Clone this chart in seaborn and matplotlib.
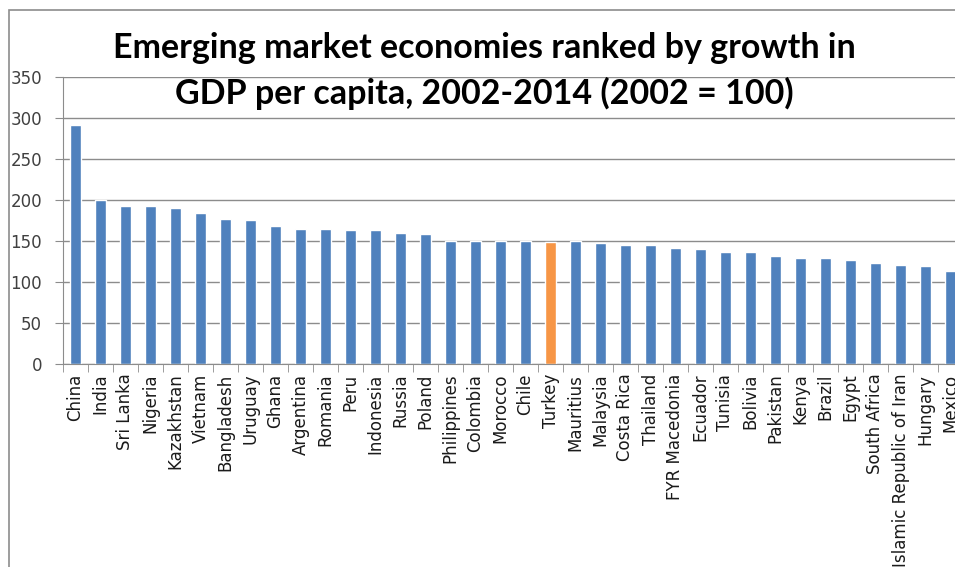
import matplotlib
matplotlib.use("Agg")
import matplotlib.pyplot as plt
import seaborn as sns
import pandas as pd
from matplotlib.patches import Rectangle
from matplotlib.ticker import FixedLocator

countries = ["China", "India", "Sri Lanka", "Nigeria", "Kazakhstan", "Vietnam",
             "Bangladesh", "Uruguay", "Ghana", "Argentina", "Romania", "Peru",
             "Indonesia", "Russia", "Poland", "Philippines", "Colombia", "Morocco",
             "Chile", "Turkey", "Mauritius", "Malaysia", "Costa Rica", "Thailand",
             "FYR Macedonia", "Ecuador", "Tunisia", "Bolivia", "Pakistan", "Kenya",
             "Brazil", "Egypt", "South Africa", "Islamic Republic of Iran",
             "Hungary", "Mexico"]
growth = [291, 200, 193, 193, 190, 184, 177, 175, 168, 165, 165, 164, 164, 160,
          158, 150, 150, 150, 150, 149, 150, 147, 145, 145, 141, 140, 136, 136,
          132, 129, 129, 127, 123, 121, 119, 114]
highlight = "Turkey"

df = pd.DataFrame({"country": countries, "growth": growth})
df["group"] = ["hi" if c == highlight else "base" for c in countries]

sns.set_style("white")
plt.rcParams["font.family"] = ["DejaVu Sans"]

fig = plt.figure(figsize=(9.55, 5.67), dpi=100)
ax = fig.add_axes([63 / 955, 203 / 567, 900 / 955, 287 / 567])

sns.barplot(data=df, x="country", y="growth", hue="group",
            palette={"base": "#4F81BD", "hi": "#F79646"}, width=0.42,
            dodge=False, legend=False, saturation=1, ax=ax)

ax.set_ylim(0, 350)
ax.set_xlim(-0.5, len(countries) - 0.5)
ax.set_yticks(range(0, 351, 50))
ax.yaxis.grid(True, color="#8C8C8C", linewidth=1)
ax.set_axisbelow(True)
ax.set_xlabel("")
ax.set_ylabel("")

for s in ["top", "right"]:
    ax.spines[s].set_visible(False)
ax.spines["left"].set_color("#8C8C8C")
ax.spines["bottom"].set_color("#8C8C8C")

ax.tick_params(axis="y", length=6, color="#8C8C8C", labelsize=12,
               labelcolor="#404040", pad=9, left=True)
ax.tick_params(axis="x", which="major", length=0, labelsize=12,
               labelcolor="#1a1a1a", pad=7, labelrotation=90)
ax.xaxis.set_minor_locator(FixedLocator([i - 0.5 for i in range(len(countries) + 1)]))
ax.tick_params(axis="x", which="minor", length=6, color="#8C8C8C", bottom=True)
for lab in ax.get_xticklabels() + ax.get_yticklabels():
    lab.set_fontfamily("DejaVu Sans")

title_font = ["Lato", "DejaVu Sans"]
fig.text(484 / 955, 1 - 48 / 567, "Emerging market economies ranked by growth in",
         ha="center", va="center", fontsize=24.5, fontweight="bold",
         color="black", family=title_font)
fig.text(484 / 955, 1 - 93 / 567, "GDP per capita, 2002-2014 (2002 = 100)",
         ha="center", va="center", fontsize=24.5, fontweight="bold",
         color="black", family=title_font)

fig.patches.append(Rectangle((9 / 955, -0.1), 1.2, 1 - 10 / 567 + 0.1,
                             transform=fig.transFigure, fill=False,
                             edgecolor="#8C8C8C", linewidth=1.2))

fig.savefig("out.png", dpi=100, facecolor="white")
